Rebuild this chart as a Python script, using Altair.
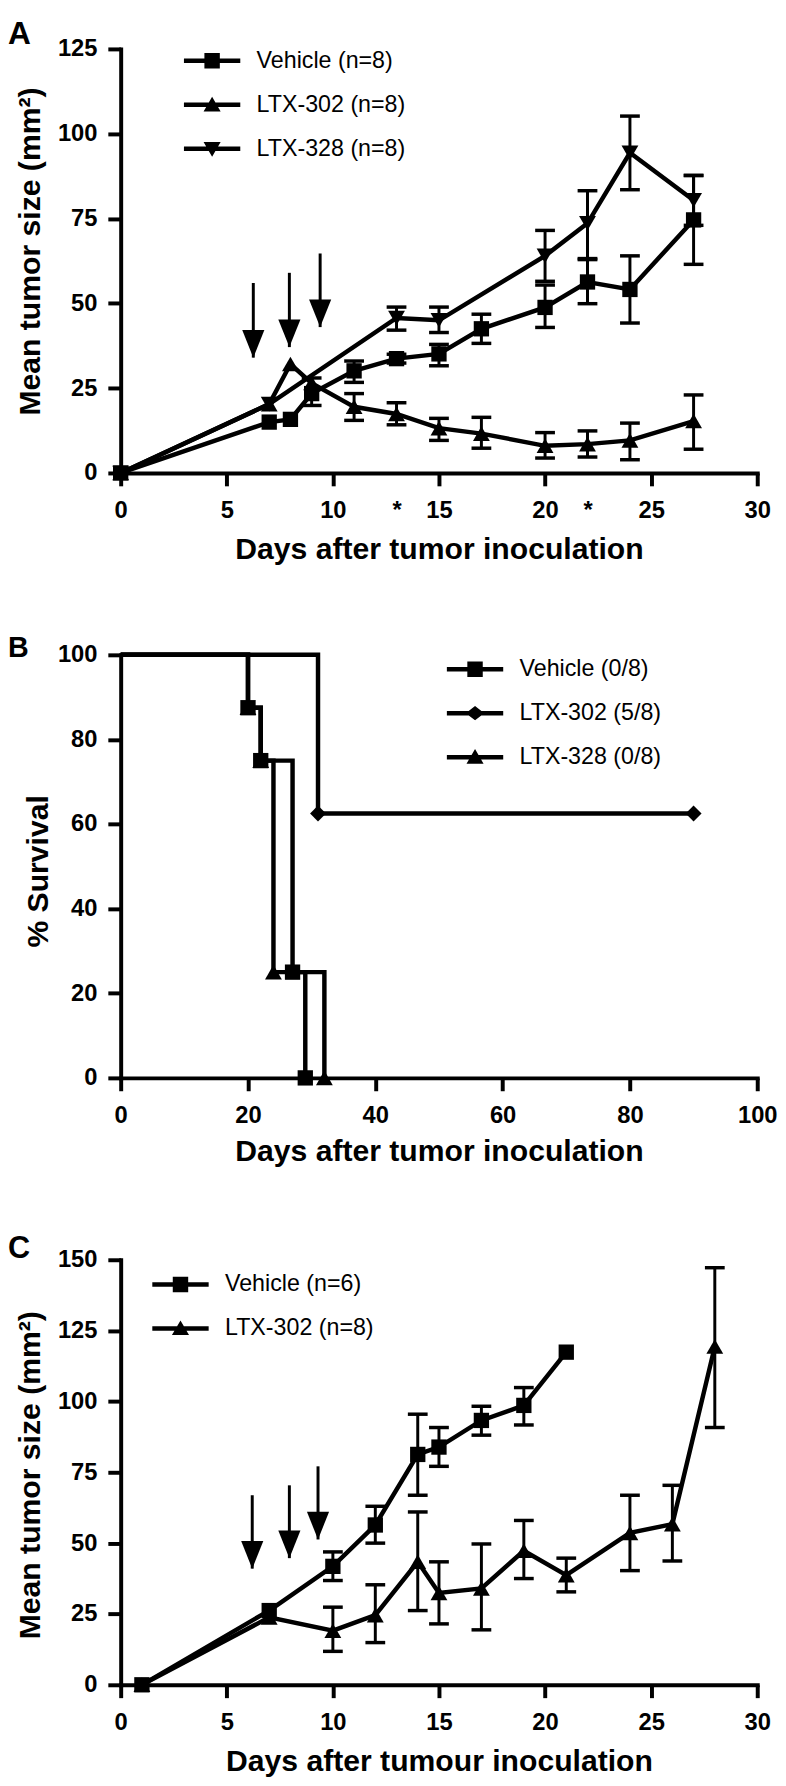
import altair as alt
import pandas as pd

FONT = "Liberation Sans"
INK = "black"

# ---------------- Panel A: tumour growth, three groups ----------------
A_NAMES = ["Vehicle (n=8)", "LTX-302 (n=8)", "LTX-328 (n=8)"]
A_VEH_DAY = [0, 7, 8, 9, 11, 13, 15, 17, 20, 22, 24, 27]
A_VEH_MEAN = [0, 15.0, 15.8, 23.4, 30.1, 33.7, 35.1, 42.5, 48.8, 56.3, 54.1, 74.6]
A_302_DAY = [0, 7, 8, 9, 11, 13, 15, 17, 20, 22, 24, 27]
A_302_MEAN = [0, 20.3, 32.1, 26.5, 19.5, 17.4, 13.2, 11.6, 8.0, 8.5, 9.6, 15.3]
A_328_DAY = [0, 7, 13, 15, 20, 22, 24, 27]
A_328_MEAN = [0, 20.3, 45.7, 45.0, 64.0, 73.6, 94.4, 80.4]

A_VEH_ERR_DAY = [9, 11, 13, 15, 17, 20, 22, 24, 27]
A_VEH_ERR_LO = [19.9, 26.7, 32.4, 31.6, 38.2, 42.9, 49.9, 44.2, 61.5]
A_VEH_ERR_HI = [28.0, 33.0, 35.0, 37.9, 46.8, 55.4, 62.9, 64.0, 87.7]
A_302_ERR_DAY = [11, 13, 15, 17, 20, 22, 24, 27]
A_302_ERR_LO = [15.5, 14.2, 9.6, 7.3, 4.4, 4.7, 3.9, 7.0]
A_302_ERR_HI = [23.4, 20.7, 16.1, 16.4, 11.9, 12.4, 14.7, 23.0]
A_328_ERR_DAY = [13, 15, 20, 22, 24, 27]
A_328_ERR_LO = [42.1, 41.4, 56.5, 63.2, 83.5, 73.0]
A_328_ERR_HI = [48.9, 48.9, 71.5, 83.2, 105.2, 87.7]

A_ARROW_DAY = [6.25, 7.95, 9.4]
A_ARROW_TOP = [56.0, 59.0, 64.7]
A_ARROW_TIP = [34.0, 37.1, 43.0]
A_STAR_DAYS = [13, 22]
A_X_TICKS = [0, 5, 10, 15, 20, 25, 30]
A_Y_TICKS = [0, 25, 50, 75, 100, 125]

# ---------------- Panel B: survival ----------------
B_NAMES = ["Vehicle (0/8)", "LTX-302 (5/8)", "LTX-328 (0/8)"]
B_VEH_DAY = [0, 20, 22, 27, 29]
B_VEH_SURV = [100, 87.5, 75, 25, 0]
B_302_DAY = [0, 31, 90]
B_302_SURV = [100, 62.5, 62.5]
B_328_DAY = [0, 20, 22, 24, 32]
B_328_SURV = [100, 87.5, 75, 25, 0]
B_X_TICKS = [0, 20, 40, 60, 80, 100]
B_Y_TICKS = [0, 20, 40, 60, 80, 100]

# ---------------- Panel C: tumour growth, two groups ----------------
C_NAMES = ["Vehicle (n=6)", "LTX-302 (n=8)"]
C_VEH_DAY = [1, 7, 10, 12, 14, 15, 17, 19, 21]
C_VEH_MEAN = [0, 26.2, 41.8, 56.4, 81.3, 83.9, 93.3, 98.6, 117.4]
C_302_DAY = [1, 7, 10, 12, 14, 15, 17, 19, 21, 24, 26, 28]
C_302_MEAN = [0, 23.8, 19.1, 24.6, 43.4, 32.4, 34.0, 47.3, 38.7, 53.6, 56.7, 119.4]

C_VEH_ERR_DAY = [10, 12, 14, 15, 17, 19]
C_VEH_ERR_LO = [36.8, 50.0, 66.9, 77.1, 88.1, 91.7]
C_VEH_ERR_HI = [46.9, 63.0, 95.5, 90.8, 98.3, 104.9]
C_302_ERR_DAY = [10, 12, 14, 15, 17, 19, 21, 24, 26, 28]
C_302_ERR_LO = [11.8, 14.9, 26.2, 21.5, 19.4, 37.5, 32.8, 40.3, 43.7, 90.8]
C_302_ERR_HI = [27.4, 35.3, 61.0, 43.4, 49.7, 58.0, 44.7, 66.9, 70.4, 147.2]

C_ARROW_DAY = [6.2, 7.95, 9.3]
C_ARROW_TOP = [66.9, 70.4, 77.1]
C_ARROW_TIP = [41.0, 44.7, 51.3]
C_X_TICKS = [0, 5, 10, 15, 20, 25, 30]
C_Y_TICKS = [0, 25, 50, 75, 100, 125, 150]

# ---------------- marker shapes ----------------
# legend symbols: unit = 12 px (symbolSize 576); a 57 px bar with the marker on it
BAR = "M-2.375,-0.19L2.375,-0.19L2.375,0.19L-2.375,0.19Z"
LEG_SQUARE = BAR + "M-0.65,-0.65L0.65,-0.65L0.65,0.65L-0.65,0.65Z"
LEG_UP = BAR + "M0,-0.68L0.72,0.56L-0.72,0.56Z"
LEG_DOWN = BAR + "M0,0.68L-0.72,-0.56L0.72,-0.56Z"
LEG_DIAMOND = BAR + "M0,-0.6L0.78,0L0,0.6L-0.78,0Z"
ARROW_HEAD = "M-0.8,-2L0.8,-2L0,0Z"
MARK_SIZE = {"square": 240, "triangle-up": 290, "triangle-down": 290, "diamond": 260}


def frame(name, days, vals):
    return pd.DataFrame({"series": [name] * len(days), "day": days, "val": vals})


def err_frame(days, lo, hi):
    return pd.DataFrame({"day": days, "lo": lo, "hi": hi})


def build_panel(letter, names, curves, marker_sets, shapes, legend_paths, errs,
                xaxis, y_ticks, y_title, y_title_top, xdom, ydom, width, height,
                legend_xy, arrows=None, step=False, letter_y=0, letter_size=31):
    xs = alt.Scale(domain=xdom, nice=False, zero=False)
    ys = alt.Scale(domain=ydom, nice=False, zero=False)
    yaxis = alt.Axis(values=y_ticks, title=None)

    def X(f):
        return alt.X(f"{f}:Q", scale=xs, axis=xaxis)

    def Y(f):
        return alt.Y(f"{f}:Q", scale=ys, axis=yaxis)

    line_df = pd.concat(curves, ignore_index=True)
    layers = [
        alt.Chart(line_df).mark_line(
            color=INK, strokeWidth=4.5, interpolate="step-after" if step else "linear"
        ).encode(x=X("day"), y=Y("val"), detail="series:N")
    ]
    for e in errs:
        layers.append(alt.Chart(e).mark_rule(color=INK, strokeWidth=3).encode(
            x=X("day"), y=Y("lo"), y2="hi:Q"))
        for end in ("lo", "hi"):
            layers.append(alt.Chart(e).mark_tick(
                color=INK, orient="horizontal", size=20, thickness=3.5, opacity=1
            ).encode(x=X("day"), y=Y(end)))
    for m, shp in zip(marker_sets, shapes):
        layers.append(alt.Chart(m).mark_point(
            shape=shp, filled=True, color=INK, opacity=1, size=MARK_SIZE[shp]
        ).encode(x=X("day"), y=Y("val")))
    if arrows is not None:
        layers.append(alt.Chart(arrows).mark_rule(color=INK, strokeWidth=3).encode(
            x=X("day"), y=Y("tip"), y2="top:Q"))
        layers.append(alt.Chart(arrows).mark_point(
            shape=ARROW_HEAD, filled=True, color=INK, opacity=1, size=784
        ).encode(x=X("day"), y=Y("tip")))
    key = "group" + letter
    leg_df = pd.DataFrame({key: names, "day": [xdom[0]] * len(names),
                           "val": [ydom[0]] * len(names)})
    layers.append(alt.Chart(leg_df).mark_point(
        filled=True, color=INK, opacity=0, size=1
    ).encode(
        x=X("day"), y=Y("val"),
        shape=alt.Shape(f"{key}:N", scale=alt.Scale(domain=names, range=legend_paths),
                        legend=alt.Legend(title=None, orient="none",
                                          legendX=legend_xy[0], legendY=legend_xy[1],
                                          symbolSize=576, symbolOpacity=1,
                                          symbolFillColor=INK, symbolStrokeWidth=0,
                                          rowPadding=20.5, labelOffset=33, padding=0,
                                          labelFont=FONT, labelFontSize=23.5,
                                          labelColor=INK))
    ))
    # y-axis title, read bottom-to-top, its upper end at y_title_top
    layers.append(alt.Chart(pd.DataFrame({"ytitle": [y_title]})).mark_text(
        align="right", baseline="alphabetic", angle=270, font=FONT, fontSize=30.5,
        fontWeight="bold", color=INK
    ).encode(text="ytitle:N", x=alt.value(-82 if letter != "B" else -74),
             y=alt.value(y_title_top)))
    # panel letter (A / B / C) in the top-left corner outside the plot
    layers.append(alt.Chart(pd.DataFrame({"panel": [letter]})).mark_text(
        align="left", baseline="top", font=FONT, fontSize=letter_size,
        fontWeight="bold", color=INK
    ).encode(text="panel:N", x=alt.value(-114), y=alt.value(letter_y)))
    return alt.layer(*layers).properties(width=width, height=height)


def x_axis(values, title, ty, **kw):
    return alt.Axis(values=values, title=title, titleY=ty, titleBaseline="alphabetic", **kw)


# ---- Panel A ----
a_xvals = sorted(A_X_TICKS + A_STAR_DAYS)
star_test = " || ".join(f"datum.value == {d}" for d in A_STAR_DAYS)
a_xaxis = x_axis(a_xvals, "Days after tumor inoculation", 87,
                 labelExpr=f"({star_test}) ? '*' : datum.label",
                 tickOpacity={"condition": {"test": star_test, "value": 0}, "value": 1})
panel_a = build_panel(
    "A", A_NAMES,
    [frame(A_NAMES[0], A_VEH_DAY, A_VEH_MEAN), frame(A_NAMES[1], A_302_DAY, A_302_MEAN),
     frame(A_NAMES[2], A_328_DAY, A_328_MEAN)],
    [frame(A_NAMES[0], A_VEH_DAY, A_VEH_MEAN), frame(A_NAMES[1], A_302_DAY, A_302_MEAN),
     frame(A_NAMES[2], A_328_DAY, A_328_MEAN)],
    ["square", "triangle-up", "triangle-down"],
    [LEG_SQUARE, LEG_UP, LEG_DOWN],
    [err_frame(A_VEH_ERR_DAY, A_VEH_ERR_LO, A_VEH_ERR_HI),
     err_frame(A_302_ERR_DAY, A_302_ERR_LO, A_302_ERR_HI),
     err_frame(A_328_ERR_DAY, A_328_ERR_LO, A_328_ERR_HI)],
    a_xaxis, A_Y_TICKS, "Mean tumor size (mm²)", 39,
    [0, 30], [0, 125], 644, 429, (80.5, 0),
    arrows=pd.DataFrame({"day": A_ARROW_DAY, "top": A_ARROW_TOP, "tip": A_ARROW_TIP}),
    letter_y=-30, letter_size=32,
)

# ---- Panel B ----
panel_b = build_panel(
    "B", B_NAMES,
    [frame(B_NAMES[0], B_VEH_DAY, B_VEH_SURV), frame(B_NAMES[1], B_302_DAY, B_302_SURV),
     frame(B_NAMES[2], B_328_DAY, B_328_SURV)],
    [frame(B_NAMES[0], B_VEH_DAY[1:], B_VEH_SURV[1:]),
     frame(B_NAMES[1], B_302_DAY[1:], B_302_SURV[1:]),
     frame(B_NAMES[2], B_328_DAY[1:], B_328_SURV[1:])],
    ["square", "diamond", "triangle-up"],
    [LEG_SQUARE, LEG_DIAMOND, LEG_UP],
    [],
    x_axis(B_X_TICKS, "Days after tumor inoculation", 84),
    B_Y_TICKS, "% Survival", 142,
    [0, 100], [0, 100], 644, 428, (346.5, 2.5),
    step=True, letter_y=-20.6, letter_size=29,
)

# ---- Panel C ----
panel_c = build_panel(
    "C", C_NAMES,
    [frame(C_NAMES[0], C_VEH_DAY, C_VEH_MEAN), frame(C_NAMES[1], C_302_DAY, C_302_MEAN)],
    [frame(C_NAMES[0], C_VEH_DAY, C_VEH_MEAN), frame(C_NAMES[1], C_302_DAY, C_302_MEAN)],
    ["square", "triangle-up"],
    [LEG_SQUARE, LEG_UP],
    [err_frame(C_VEH_ERR_DAY, C_VEH_ERR_LO, C_VEH_ERR_HI),
     err_frame(C_302_ERR_DAY, C_302_ERR_LO, C_302_ERR_HI)],
    x_axis(C_X_TICKS, "Days after tumour inoculation", 87),
    C_Y_TICKS, "Mean tumor size (mm²)", 52,
    [0, 30], [0, 150], 644, 430, (48.5, 13),
    arrows=pd.DataFrame({"day": C_ARROW_DAY, "top": C_ARROW_TOP, "tip": C_ARROW_TIP}),
    letter_y=-25.7, letter_size=31,
)

top = alt.vconcat(panel_a, panel_b, panel_c, spacing=184, bounds="flush").resolve_scale(
    shape="independent"
).resolve_legend(shape="independent")

chart = top.properties(padding=0, background="white").configure_view(
    stroke=None
).configure_axis(
    domainColor=INK, domainWidth=4, domainCap="square", tickColor=INK, tickWidth=4,
    tickSize=13, labelFont=FONT, labelFontSize=24, labelFontWeight="bold",
    labelColor=INK, titleFont=FONT, titleFontSize=30.5, titleFontWeight="bold",
    titleColor=INK, grid=False, labelFlush=False, labelOverlap=False,
).configure_axisX(labelPadding=13).configure_axisY(labelPadding=11)

chart.save("out.html", embed_options={"renderer": "svg", "actions": False})
